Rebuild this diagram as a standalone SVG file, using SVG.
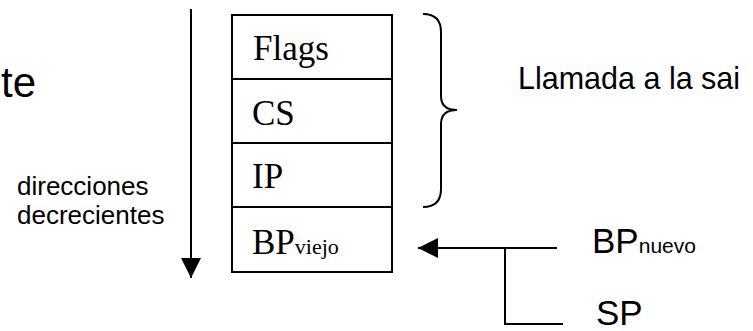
<svg xmlns="http://www.w3.org/2000/svg" width="753" height="331" viewBox="0 0 753 331">
  <style>
    .sans { font-family: "Liberation Sans", Arial, sans-serif; fill: #000; }
    .serif { font-family: "Liberation Serif", "Times New Roman", serif; fill: #000; font-size: 35px; }
    .cell { fill: #fff; stroke: #000; stroke-width: 2; }
    .wire { fill: none; stroke: #000; stroke-width: 2; }
  </style>
  <defs>
    <marker id="head" viewBox="0 0 20 20" refX="20" refY="10" markerWidth="20" markerHeight="20" markerUnits="userSpaceOnUse" orient="auto">
      <path d="M0,0 L20,10 L0,20 Z" fill="#000"/>
    </marker>
  </defs>
  <rect width="753" height="331" fill="#fff"/>

  <text class="sans" x="36" y="97" font-size="42" text-anchor="end">te</text>

  <g id="direction-label">
    <text class="sans" x="17" y="195" font-size="26">direcciones</text>
    <text class="sans" x="17" y="224" font-size="26">decrecientes</text>
  </g>

  <!-- stack cells -->
  <g id="cell-flags">
    <rect class="cell" x="232" y="15" width="160" height="64"/>
    <text class="serif" x="253" y="60">Flags</text>
  </g>
  <g id="cell-cs">
    <rect class="cell" x="232" y="79" width="160" height="64"/>
    <text class="serif" x="252" y="125">CS</text>
  </g>
  <g id="cell-ip">
    <rect class="cell" x="232" y="143" width="160" height="64"/>
    <text class="serif" x="252" y="188">IP</text>
  </g>
  <g id="cell-bp">
    <rect class="cell" x="232" y="207" width="160" height="65"/>
    <text class="serif" x="252" y="254">BP<tspan font-size="22">viejo</tspan></text>
  </g>

  <g id="brace-label">
    <path class="wire" d="M423,14 Q441,14 441,32 L441,96 Q441,110 457,110 Q441,110 441,124 L441,189 Q441,207 423,207"/>
    <text class="sans" x="518" y="89" font-size="30.5">Llamada a la sai</text>
  </g>

  <g id="bp-nuevo">
    <text class="sans" x="592" y="253" font-size="35">BP<tspan font-size="21">nuevo</tspan></text>
  </g>
  <g id="sp">
    <text class="sans" x="596" y="325" font-size="35">SP</text>
  </g>

  <g id="connectors">
    <line class="wire" x1="191" y1="9" x2="191" y2="278" marker-end="url(#head)"/>
    <line class="wire" x1="557" y1="248" x2="418" y2="248" marker-end="url(#head)"/>
    <polyline class="wire" points="505,248 505,324 563,324"/>
  </g>
</svg>
